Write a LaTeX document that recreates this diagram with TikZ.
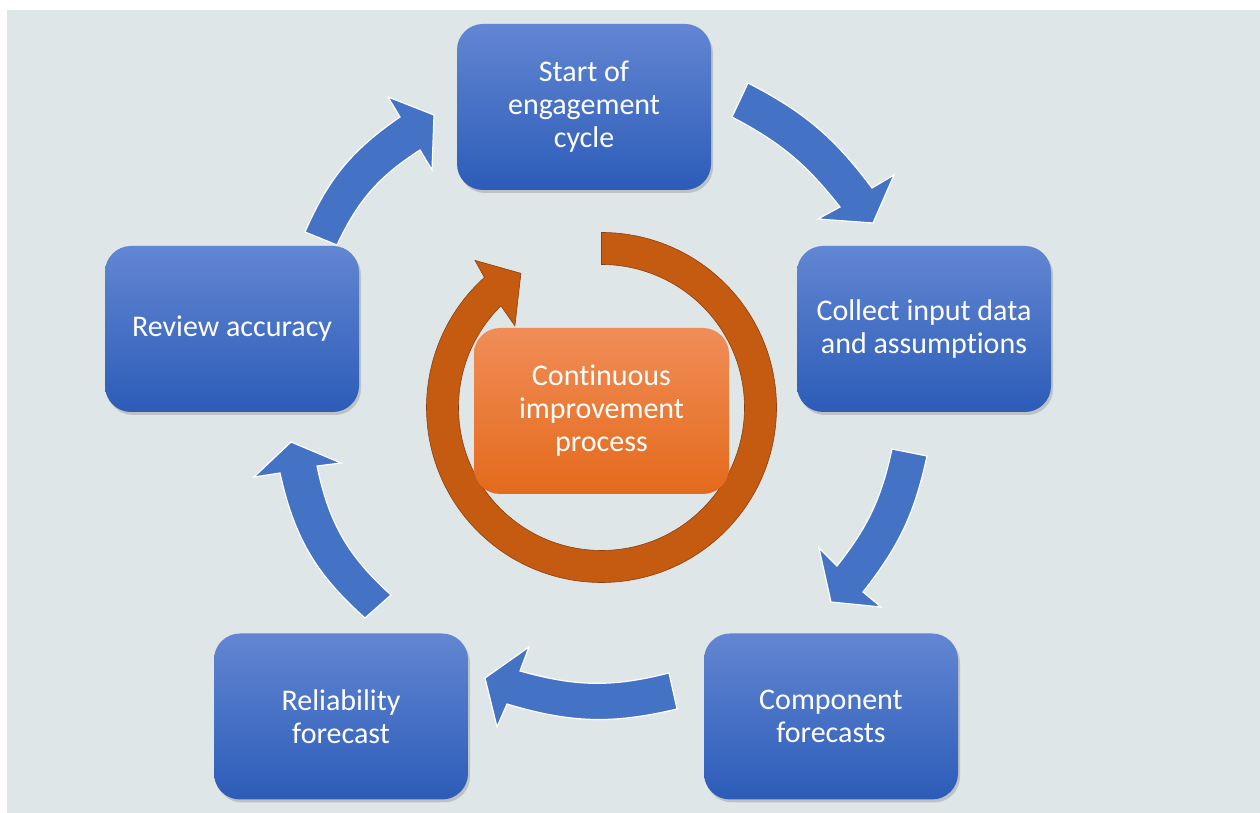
\documentclass[tikz,border=0pt]{standalone}
\usepackage{fontspec}
\setmainfont{Carlito}[Ligatures={NoCommon}]
\usetikzlibrary{shadows}
\definecolor{bg}{HTML}{DFE6E8}
\definecolor{arrowblue}{HTML}{4472C4}
\definecolor{boxtop}{HTML}{6286D2}
\definecolor{boxmid}{HTML}{4371C8}
\definecolor{boxbot}{HTML}{2C5CB8}
\definecolor{ortop}{HTML}{F08D57}
\definecolor{ormid}{HTML}{F47B28}
\definecolor{orbot}{HTML}{E46A1C}
\definecolor{ringfill}{HTML}{C55A11}
\definecolor{ringedge}{HTML}{8E3F0C}
\tikzset{
  stepbox/.style={rectangle, rounded corners=26pt, minimum width=254pt, minimum height=166pt,
    inner sep=0pt, top color=boxtop, middle color=boxmid, bottom color=boxbot, text=white, align=center,
    font=\fontsize{30}{33}\selectfont,
    drop shadow={shadow xshift=2pt, shadow yshift=-3pt, opacity=0.35}},
  centerbox/.style={rectangle, rounded corners=26pt, minimum width=255pt, minimum height=166pt,
    inner sep=0pt, top color=ortop, middle color=ormid, bottom color=orbot, text=white, align=center,
    font=\fontsize{30}{33}\selectfont},
  bluearrow/.style={fill=arrowblue, draw=white, line width=1.2pt, line join=miter},
  ringarrow/.style={fill=ringfill, draw=ringedge, line width=0.6pt}
}
\begin{document}
\begin{tikzpicture}[x=1pt,y=1pt]
\useasboundingbox (0,0) rectangle (1260,813);
\fill[bg] (7,0) rectangle (1260,803);

% arrow 1: start -> collect
\coordinate (a1to) at (748,730); \coordinate (a1no) at (872,625); \coordinate (a1wo) at (894,638);
\coordinate (a1t) at (873,590); \coordinate (a1wi) at (818,594); \coordinate (a1ni) at (840,606);
\coordinate (a1ti) at (732,696);
\draw[bluearrow] (a1to) to[bend left=13] (a1no) -- (a1wo) -- (a1t) -- (a1wi) -- (a1ni) to[bend right=12] (a1ti) -- cycle;

% arrow 2: collect -> component
\coordinate (a2to) at (927,357); \coordinate (a2no) at (863,221); \coordinate (a2wo) at (881,206);
\coordinate (a2t) at (831,211); \coordinate (a2wi) at (819,265); \coordinate (a2ni) at (837,247);
\coordinate (a2ti) at (892,364);
\draw[bluearrow] (a2to) to[bend left=13] (a2no) -- (a2wo) -- (a2t) -- (a2wi) -- (a2ni) to[bend right=13] (a2ti) -- cycle;

% arrow 3: component -> reliability
\coordinate (a3to) at (677,104); \coordinate (a3no) at (507,109); \coordinate (a3wo) at (497,86);
\coordinate (a3t) at (485,135); \coordinate (a3wi) at (529,166); \coordinate (a3ni) at (520,142);
\coordinate (a3ti) at (669,140);
\draw[bluearrow] (a3to) to[bend left=15] (a3no) -- (a3wo) -- (a3t) -- (a3wi) -- (a3ni) to[bend right=15] (a3ti) -- cycle;

% arrow 4: reliability -> review
\coordinate (a4to) at (365,195); \coordinate (a4no) at (280,340); \coordinate (a4wo) at (254,336);
\coordinate (a4t) at (291,371); \coordinate (a4wi) at (341,350); \coordinate (a4ni) at (317,347);
\coordinate (a4ti) at (391,218);
\draw[bluearrow] (a4to) to[bend left=18] (a4no) -- (a4wo) -- (a4t) -- (a4wi) -- (a4ni) to[bend right=18] (a4ti) -- cycle;

% arrow 5: review -> start
\coordinate (a5to) at (305,581); \coordinate (a5no) at (400,696); \coordinate (a5wo) at (388,716);
\coordinate (a5t) at (434,698); \coordinate (a5wi) at (432,643); \coordinate (a5ni) at (420,663);
\coordinate (a5ti) at (337,568);
\draw[bluearrow] (a5to) to[bend left=16] (a5no) -- (a5wo) -- (a5t) -- (a5wi) -- (a5ni) to[bend right=16] (a5ti) -- cycle;

% circular orange arrow
\coordinate (rc) at (601.5,405.5);
\draw[ringarrow] ([shift={(90:175)}]rc) arc[start angle=90, end angle=-228, radius=175]
  -- ([shift={(-229.3:194)}]rc) -- ([shift={(-239:156.5)}]rc) -- ([shift={(-223.3:119)}]rc)
  -- ([shift={(-225.3:143)}]rc) arc[start angle=-225.3, end angle=90, radius=143] -- cycle;

% boxes
\node[stepbox] (start) at (584,706) {Start of\\engagement\\cycle};
\node[stepbox] (collect) at (924,484) {Collect input data\\and assumptions};
\node[stepbox] (component) at (831,96.5) {Component\\forecasts};
\node[stepbox] (reliability) at (341,96.5) {Reliability\\forecast};
\node[stepbox] (review) at (232,484) {Review accuracy};
\node[centerbox] (cip) at (601.5,402) {Continuous\\improvement\\process};
\end{tikzpicture}
\end{document}
